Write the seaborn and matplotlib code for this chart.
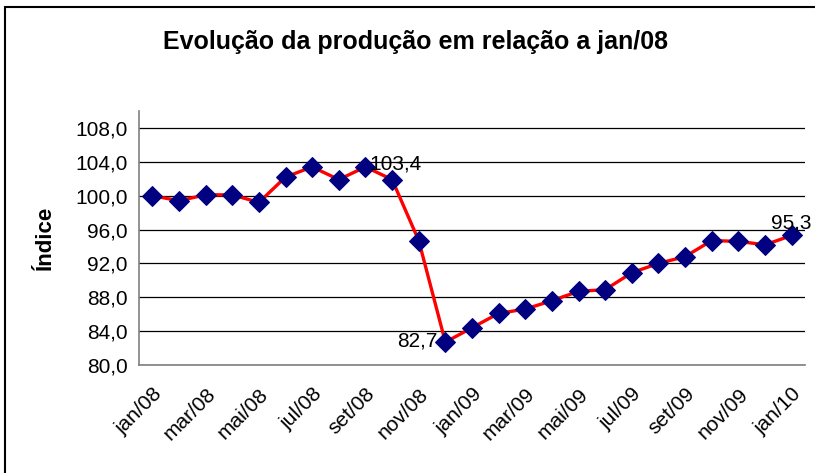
import numpy as np
import pandas as pd
import seaborn as sns
import matplotlib
matplotlib.use('Agg')
import matplotlib.pyplot as plt
import matplotlib.transforms as mtransforms
from matplotlib.ticker import FixedLocator, FuncFormatter
from matplotlib.patches import Rectangle

# Data.
months = ['jan', 'fev', 'mar', 'abr', 'mai', 'jun', 'jul', 'ago', 'set', 'out', 'nov', 'dez']
periods = [m + '/08' for m in months] + [m + '/09' for m in months] + ['jan/10']
indice = [100.0, 99.4, 100.1, 100.1, 99.2, 102.2, 103.4, 101.9, 103.4, 101.9, 94.7, 82.7,
          84.4, 86.1, 86.6, 87.6, 88.7, 88.9, 90.9, 92.0, 92.8, 94.7, 94.6, 94.2, 95.3]
labelled = {8: 'right', 11: 'left', 24: 'top'}


def main():
    df = pd.DataFrame({'pos': np.arange(len(periods)), 'periodo': periods, 'indice': indice})

    sns.set_style('white')
    plt.rcParams['font.family'] = ['Liberation Sans', 'DejaVu Sans']
    plt.rcParams['text.color'] = 'black'
    plt.rcParams['xtick.color'] = 'black'
    plt.rcParams['ytick.color'] = 'black'
    plt.rcParams['axes.labelcolor'] = 'black'

    fig = plt.figure(figsize=(8.15, 4.73), dpi=100)
    ax = fig.add_axes([139 / 815, 1 - 365 / 473, 666 / 815, 254 / 473])

    sns.lineplot(data=df, x='pos', y='indice', ax=ax, color='#ff0000', linewidth=2.4,
                 marker='D', markersize=10.5, markerfacecolor='#000080',
                 markeredgecolor='#000080', zorder=3)

    # Axes.
    ax.set_xlim(-0.5, len(periods) - 0.5)
    ax.set_ylim(80, 110)
    ax.yaxis.set_major_locator(FixedLocator(np.arange(80, 109, 4)))
    ax.yaxis.set_major_formatter(FuncFormatter(lambda v, p: f'{v:.1f}'.replace('.', ',')))
    ax.grid(axis='y', color='black', linewidth=0.9)
    ax.set_axisbelow(True)

    ax.xaxis.set_major_locator(FixedLocator(np.arange(0, len(periods), 2)))
    ax.set_xticklabels(periods[::2], rotation=45, ha='right', rotation_mode='anchor', fontsize=15)
    shift = mtransforms.ScaledTranslation(-5 / 100, 0, fig.dpi_scale_trans)
    for lab in ax.get_xticklabels():
        lab.set_transform(lab.get_transform() + shift)
    ax.xaxis.set_minor_locator(FixedLocator(np.arange(-0.5, len(periods) - 1, 2)))
    ax.tick_params(axis='x', which='major', length=0, pad=14)
    ax.tick_params(axis='x', which='minor', length=5, color='#808080', width=1, direction='out')
    ax.tick_params(axis='y', length=5, color='#808080', width=1, direction='out', labelsize=15, pad=3)

    for s in ['top', 'right']:
        ax.spines[s].set_visible(False)
    for s in ['left', 'bottom']:
        ax.spines[s].set_color('#808080')
        ax.spines[s].set_linewidth(1.2)

    ax.set_xlabel('')
    ax.set_ylabel('Índice', fontsize=16, fontweight='bold', labelpad=14)

    # Data labels.
    for i, where in labelled.items():
        txt = f'{indice[i]:.1f}'.replace('.', ',')
        if where == 'right':
            ax.annotate(txt, (i, indice[i]), xytext=(3, 2), textcoords='offset points',
                        ha='left', va='center', fontsize=15)
        elif where == 'left':
            ax.annotate(txt, (i, indice[i]), xytext=(-6, 1), textcoords='offset points',
                        ha='right', va='center', fontsize=15)
        else:
            ax.annotate(txt, (i, indice[i]), xytext=(0, 2), textcoords='offset points',
                        ha='center', va='bottom', fontsize=15)

    fig.text(0.51, 1 - 42 / 473, 'Evolução da produção em relação a jan/08',
             ha='center', va='center', fontsize=18, fontweight='bold')

    # Chart area border.
    fig.patches.append(Rectangle((5 / 815, -0.05), 1.1, 1.05 - 7 / 473, transform=fig.transFigure,
                                 fill=False, edgecolor='black', linewidth=1.5))

    plt.savefig('out.png', dpi=100)
    plt.close()


if __name__ == '__main__':
    main()
